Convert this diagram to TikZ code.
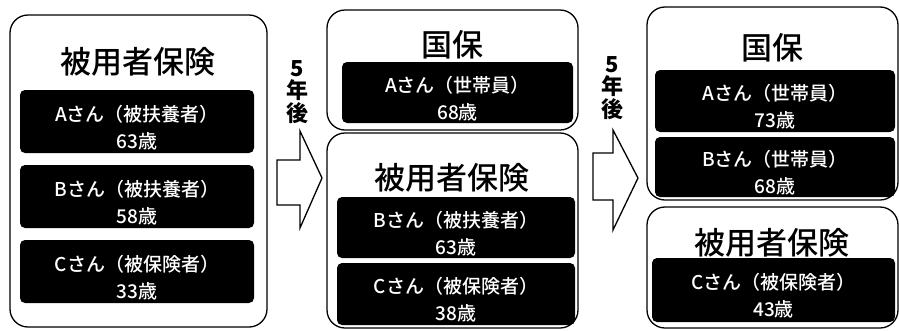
\documentclass[tikz,border=0pt]{standalone}
\usepackage{fontspec}
\setmainfont{Noto Sans CJK JP}
\newfontfamily\jpmed{Noto Sans CJK JP Medium}
\begin{document}
\begin{tikzpicture}[x=1pt,y=-1pt,
  outer/.style={draw=black, line width=1.3pt, rounded corners=18pt, fill=white, inner sep=0pt},
  inner/.style={fill=black, rounded corners=5pt, inner sep=0pt},
  itext/.style={text=white, align=center, inner sep=0pt, yshift=-6pt,
    font=\jpmed\fontsize{19}{27}\selectfont},
  ttl/.style={font=\jpmed\fontsize{31}{31}\selectfont, inner sep=0pt},
  blockarrow/.style={draw=black, line width=1.3pt, fill=white, line join=miter},
  years/.style={font=\fontsize{22}{22.5}\selectfont\bfseries, align=center, inner sep=0pt}]
\useasboundingbox (0,0) rectangle (899,330);

% left column
\node[outer, minimum width=257pt, minimum height=312pt] (L) at (138.5,171) {};
\node[ttl] (Lt) at (138,62) {被用者保険};
\node[inner, minimum width=234pt, minimum height=63pt] (LA) at (137,121.5) {};
\node[itext] (LAt) at (LA) {Aさん（被扶養者）\\63歳};
\node[inner, minimum width=234pt, minimum height=63pt] (LB) at (137,196.5) {};
\node[itext] (LBt) at (LB) {Bさん（被扶養者）\\58歳};
\node[inner, minimum width=234pt, minimum height=63pt] (LC) at (137,271.5) {};
\node[itext] (LCt) at (LC) {Cさん（被保険者）\\33歳};

% arrow 1
\node[years] (Y1) at (297,92) {5\\年\\後};
\draw[blockarrow] (277,160) -- (300,160) -- (300,131) -- (322,178) -- (300,228) -- (300,205) -- (277,205) -- cycle;

% middle column
\node[outer, minimum width=251pt, minimum height=120pt] (M1) at (452.5,70) {};
\node[ttl] (M1t) at (452,45) {国保};
\node[inner, minimum width=231pt, minimum height=61pt] (MA) at (457.5,92.5) {};
\node[itext] (MAt) at (MA) {Aさん（世帯員）\\68歳};
\node[outer, minimum width=251pt, minimum height=195pt] (M2) at (452.5,230.5) {};
\node[ttl] (M2t) at (452,178) {被用者保険};
\node[inner, minimum width=238pt, minimum height=61pt] (MB) at (456,227.5) {};
\node[itext] (MBt) at (MB) {Bさん（被扶養者）\\63歳};
\node[inner, minimum width=238pt, minimum height=62pt] (MC) at (456,294) {};
\node[itext] (MCt) at (MC) {Cさん（被保険者）\\38歳};

% arrow 2
\node[years] (Y2) at (612,88) {5\\年\\後};
\draw[blockarrow] (593,153) -- (613,153) -- (613,130) -- (638,178) -- (613,230) -- (613,200) -- (593,200) -- cycle;

% right column
\node[outer, minimum width=251pt, minimum height=193pt] (R1) at (772.5,103.5) {};
\node[ttl] (R1t) at (772,48) {国保};
\node[inner, minimum width=240pt, minimum height=62pt] (RA) at (775,101) {};
\node[itext] (RAt) at (RA) {Aさん（世帯員）\\73歳};
\node[inner, minimum width=240pt, minimum height=60pt] (RB) at (775,167) {};
\node[itext] (RBt) at (RB) {Bさん（世帯員）\\68歳};
\node[outer, minimum width=251pt, minimum height=121pt] (R2) at (772.5,267.5) {};
\node[ttl] (R2t) at (772,243) {被用者保険};
\node[inner, minimum width=243pt, minimum height=64pt] (RC) at (773.5,290) {};
\node[itext] (RCt) at (RC) {Cさん（被保険者）\\43歳};
\end{tikzpicture}
\end{document}
